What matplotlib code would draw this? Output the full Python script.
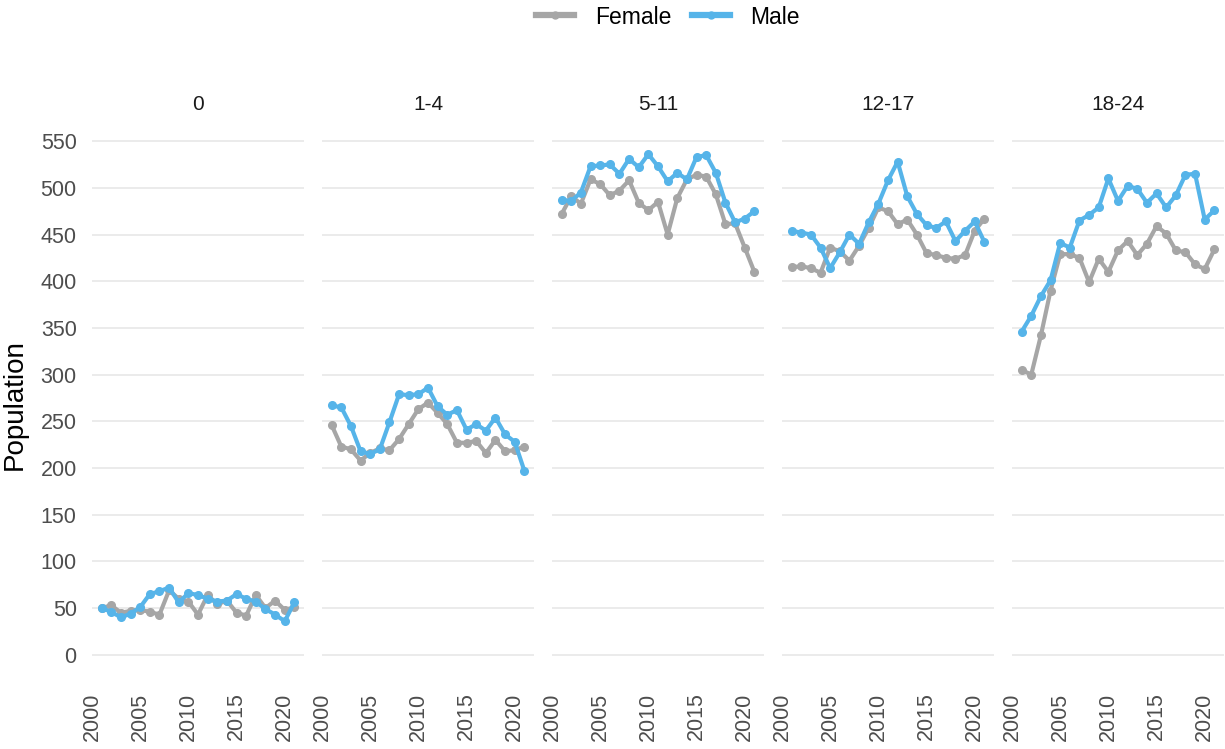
import matplotlib
matplotlib.use("Agg")
import matplotlib.pyplot as plt
from matplotlib.lines import Line2D

plt.rcParams['font.family'] = ['Liberation Sans', 'DejaVu Sans']

# years and age groups
years = list(range(2001, 2022))
groups = ['0', '1-4', '5-11', '12-17', '18-24']

# population, one list per group and sex
female = {
    '0': [50, 53, 45, 47, 48, 46, 43, 69, 60, 57, 43, 64, 54, 58, 45, 42, 64, 50, 58, 48, 51],
    '1-4': [246, 223, 220, 208, 216, 221, 219, 231, 247, 263, 270, 259, 247, 227, 227, 229, 216, 230, 218, 219, 223],
    '5-11': [472, 491, 483, 509, 504, 492, 497, 508, 484, 476, 485, 450, 489, 509, 514, 512, 493, 461, 462, 436, 410],
    '12-17': [415, 416, 414, 409, 436, 432, 422, 438, 457, 479, 475, 461, 466, 450, 430, 428, 425, 424, 428, 454, 467],
    '18-24': [305, 300, 342, 390, 429, 429, 425, 399, 424, 410, 433, 443, 428, 440, 459, 451, 433, 431, 418, 413, 434],
}
male = {
    '0': [50, 46, 40, 44, 51, 65, 68, 72, 56, 66, 64, 60, 57, 58, 65, 60, 57, 49, 43, 36, 56],
    '1-4': [267, 265, 245, 218, 215, 220, 249, 279, 278, 279, 286, 266, 257, 262, 241, 247, 240, 254, 236, 228, 197],
    '5-11': [487, 486, 495, 523, 524, 525, 515, 531, 522, 536, 523, 507, 516, 509, 533, 535, 516, 484, 463, 467, 475],
    '12-17': [454, 452, 450, 436, 414, 431, 450, 440, 463, 483, 508, 528, 491, 472, 460, 457, 464, 443, 454, 464, 442],
    '18-24': [346, 363, 384, 401, 441, 436, 465, 471, 479, 510, 486, 502, 499, 484, 494, 479, 492, 514, 515, 466, 476],
}

grey_col = '#A6A6A6'
blue_col = '#56B4E9'
W, H = 1225, 749

fig = plt.figure(figsize=(W / 100, H / 100), dpi=100)

left0 = 92 / W
pw = 212 / W
step = 230 / W
bottom = 1 - 680 / H
top = 1 - 129 / H

axes = []
for i, g in enumerate(groups):
    ax = fig.add_axes([left0 + i * step, bottom, pw, top - bottom])
    ax.plot(years, female[g], color=grey_col, lw=3.0, marker='o', ms=5.5, zorder=3)
    ax.plot(years, male[g], color=blue_col, lw=3.0, marker='o', ms=5.5, zorder=4)
    ax.set_xlim(2000, 2022)
    ax.set_ylim(-27, 563)
    ax.set_yticks(range(0, 551, 50))
    ax.set_xticks([2000, 2005, 2010, 2015, 2020])
    ax.grid(axis='y', color='#EBEBEB', lw=1.4, zorder=0)
    ax.grid(axis='x', visible=False)
    for s in ax.spines.values():
        s.set_visible(False)
    ax.tick_params(length=0, labelsize=15.5, labelcolor='#4D4D4D')
    ax.tick_params(axis='x', rotation=90, pad=9)
    ax.tick_params(axis='y', pad=11)
    if i > 0:
        ax.tick_params(axis='y', labelleft=False)
    ax.set_title(g, fontsize=15, color='#1A1A1A', pad=14)
    axes.append(ax)

fig.text(15 / W, (bottom + top) / 2, 'Population', rotation=90,
         ha='center', va='center', fontsize=20, color='black')

handles = [
    Line2D([], [], color=grey_col, lw=4.5, marker='o', ms=5),
    Line2D([], [], color=blue_col, lw=4.5, marker='o', ms=5),
]
fig.legend(handles, ['Female', 'Male'], loc='center', bbox_to_anchor=(668 / W, 1 - 17 / H),
           ncol=2, frameon=False, fontsize=16.5, handlelength=1.65, columnspacing=0.9,
           handletextpad=0.9)

fig.savefig('out.png', dpi=100)
